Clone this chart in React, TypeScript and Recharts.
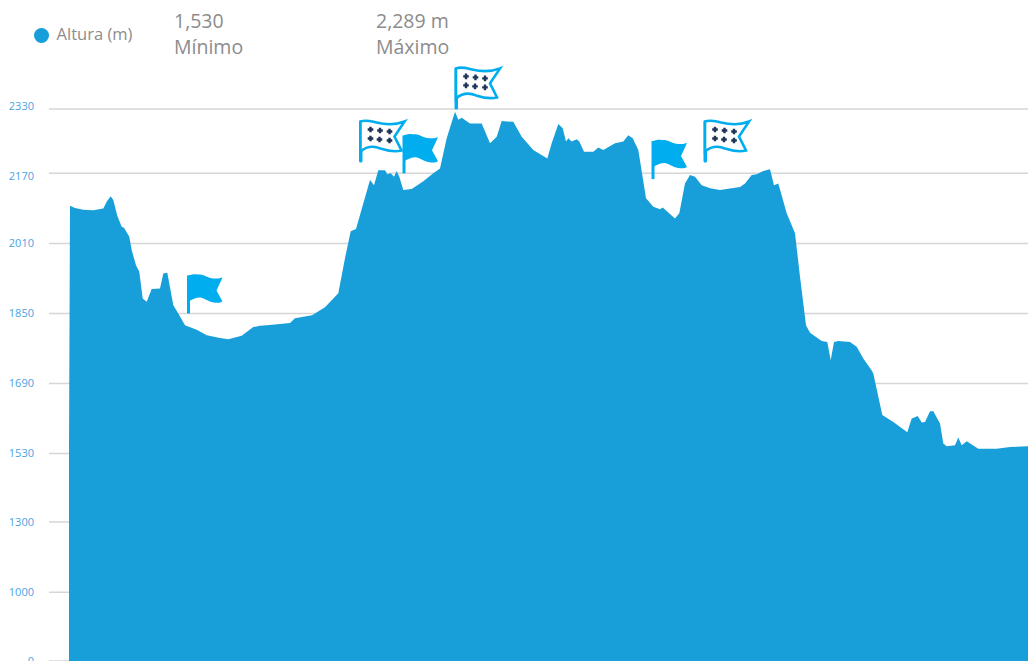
import { Area, AreaChart, CartesianGrid, Legend, ReferenceDot, XAxis, YAxis } from "recharts";

const distances = [
  0, 0.1, 0.6, 1.43, 2.43, 3.43, 3.77, 4.17, 4.43, 4.83, 5.27, 5.5, 6.03, 6.27, 6.7, 7.03, 7.37, 7.77, 8.27, 9.1, 9.43,
  9.83, 10.43, 10.93, 11.6, 12.77, 13.77, 15.1, 15.93, 17.27, 18.43, 19.1, 19.8, 21.1, 22.1, 22.6, 24.3, 25.6, 26.93,
  27.6, 28.17, 28.7, 29.43, 30.1, 30.5, 30.93, 31.6, 31.83, 32.17, 32.5, 32.77, 33.03, 33.43, 34.27, 35.43, 36.43, 37.1,
  37.77, 38.6, 38.93, 39.27, 40.1, 41.27, 42.1, 42.77, 43.27, 44.43, 45.27, 46.43, 47.83, 48.27, 48.93, 49.37, 49.7,
  49.93, 50.27, 50.77, 51.03, 51.5, 52.43, 52.93, 53.43, 54.6, 55.43, 55.93, 56.37, 56.93, 57.7, 58.43, 59.1, 59.37,
  60.6, 61.03, 61.6, 62.1, 62.6, 63.27, 64.1, 65.1, 67.1, 67.6, 68.27, 68.77, 69.43, 70.1, 70.5, 70.93, 71.77, 72.6,
  73.1, 73.7, 74.1, 75.27, 75.83, 76.17, 76.5, 76.93, 78.1, 78.77, 79.43, 80.27, 80.43, 81.33, 82.43, 83.83, 84.27,
  84.6, 84.87, 85.27, 85.6, 86.1, 86.43, 87.1, 87.43, 87.77, 88.6, 88.93, 89.27, 89.77, 90.93, 92.77, 94.1, 95.9,
];
const altitudes = [
  1544, 2096, 2091, 2087, 2086, 2090, 2105, 2118, 2109, 2073, 2048, 2046, 2025, 1995, 1960, 1945, 1884, 1877, 1906, 1907,
  1941, 1943, 1869, 1850, 1823, 1813, 1800, 1794, 1791, 1799, 1819, 1822, 1823, 1826, 1828, 1839, 1846, 1864, 1896,
  1976, 2038, 2043, 2101, 2155, 2143, 2178, 2178, 2168, 2170, 2162, 2176, 2162, 2132, 2134, 2152, 2170, 2182,
  2257, 2323, 2303, 2308, 2294, 2294, 2245, 2261, 2300, 2298, 2261, 2228, 2207, 2245, 2293, 2282, 2249,
  2257, 2249, 2255, 2249, 2224, 2224, 2234, 2228, 2245, 2249, 2265, 2257, 2228, 2113, 2094, 2088, 2092,
  2067, 2079, 2147, 2166, 2162, 2143, 2136, 2132, 2139, 2147, 2166, 2168, 2176, 2180, 2143, 2147, 2079, 2033,
  1934, 1823, 1806, 1787, 1785, 1743, 1785, 1787, 1785, 1774, 1747, 1720, 1713, 1618, 1602, 1579, 1610,
  1613, 1616, 1601, 1602, 1627, 1627, 1599, 1553, 1547, 1549, 1567, 1549, 1558, 1541, 1541, 1545, 1547,
];
const altitudeTicks = [0, 1000, 1300, 1530, 1690, 1850, 2010, 2170, 2330];
// the source axis is not linear: share of the plot height at each tick, from the bottom
const tickShares = [0, 0.1247, 0.252, 0.3757, 0.5026, 0.6296, 0.7565, 0.8834, 1];
const plainFlags = [
  { dist: 11.95, alt: 1850 },
  { dist: 33.5, alt: 2170 },
  { dist: 58.4, alt: 2157 },
];
const dottedFlags = [
  { dist: 29.15, alt: 2197 },
  { dist: 38.7, alt: 2329 },
  { dist: 63.6, alt: 2197 },
];

const data = distances.map((dist, i) => ({ dist, alt: altitudes[i] }));

const BLUE = "#189ed9";
const FLAG_BLUE = "#00aeef";

function kneeScale(domain = [0, 2330], range = [0, 1]) {
  const scale = (v: number) => {
    let i = 0;
    while (i < altitudeTicks.length - 2 && v > altitudeTicks[i + 1]) i++;
    const t = (v - altitudeTicks[i]) / (altitudeTicks[i + 1] - altitudeTicks[i]);
    const share = tickShares[i] + t * (tickShares[i + 1] - tickShares[i]);
    return range[0] + share * (range[1] - range[0]);
  };
  scale.domain = (d?: number[]) => (d ? kneeScale(d, range) : domain);
  scale.range = (r?: number[]) => (r ? kneeScale(domain, r) : range);
  scale.copy = () => kneeScale(domain, range);
  scale.ticks = () => altitudeTicks;
  return scale;
}

function PlainFlag({ cx, cy }: any) {
  return (
    <g transform={`translate(${cx},${cy})`}>
      <rect x={-1.5} y={-38} width={3} height={38} fill={FLAG_BLUE} />
      <path
        d="M0,-38 C5,-40 9,-39 12,-39 C17,-38 21,-35 25,-35 C29,-35 31,-35 34,-36 L28,-23 L34,-12 C31,-10 28,-11 25,-11 C20,-12 16,-15 12,-16 C7,-16 4,-14 0,-12 Z"
        fill={FLAG_BLUE}
      />
    </g>
  );
}

function DottedFlag({ cx, cy }: any) {
  const dots = [
    [10, -33],
    [19.5, -32],
    [29, -31],
    [10, -24],
    [19, -23],
    [29, -22],
  ];
  return (
    <g transform={`translate(${cx},${cy})`}>
      <rect x={-1.5} y={-42} width={3.5} height={42} rx={1.5} fill={FLAG_BLUE} />
      <path
        d="M0,-41 C6,-43 11,-41 16,-40 C24,-38 34,-37 44,-41 L34,-26 L41,-12 C33,-10 26,-12 20,-14 C13,-17 6,-16 0,-11 Z"
        fill="#fff"
        stroke={FLAG_BLUE}
        strokeWidth={2.6}
      />
      {dots.map(([x, y], i) => (
        <path
          key={i}
          d={`M${x - 2.8},${y} H${x + 2.8} M${x},${y - 2.8} V${y + 2.8}`}
          stroke="#1d3557"
          strokeWidth={2.4}
        />
      ))}
    </g>
  );
}

function AltitudeTick({ x, y, payload }: any) {
  // the two top labels sit slightly off their lines in the source
  const nudge = payload.value === 2330 ? -3 : payload.value === 2170 ? 2.5 : 0;
  return (
    <text x={x} y={y + nudge} dy="0.35em" textAnchor="end" fontSize={11} fill="#4aa3df" fontFamily="Open Sans">
      {payload.value}
    </text>
  );
}

function Caption({ left, top, text }: { left: number; top: number; text: string }) {
  return <div style={{ position: "absolute", left, top, fontSize: 19.5, lineHeight: "26px", color: "#8c8c8c" }}>{text}</div>;
}

export default function App() {
  return (
    <div
      style={{
        position: "absolute",
        left: 0,
        top: 0,
        width: 1028,
        height: 661,
        overflow: "hidden",
        background: "#fff",
        fontFamily: "Open Sans",
      }}
    >
      <AreaChart width={1028} height={661} data={data} margin={{ top: 109, right: 0, bottom: 0, left: 0 }}>
        <CartesianGrid vertical={false} stroke="#d6d6d6" strokeWidth={1.5} />
        <XAxis dataKey="dist" type="number" domain={[-2, 95.9]} hide />
        <YAxis
          type="number"
          domain={[0, 2330]}
          scale={kneeScale() as any}
          ticks={altitudeTicks}
          interval={0}
          width={49}
          axisLine={false}
          tickLine={false}
          tickSize={15}
          tickMargin={0}
          tick={<AltitudeTick />}
        />
        <Legend
          layout="horizontal"
          align="center"
          verticalAlign="middle"
          iconType="circle"
          iconSize={15}
          wrapperStyle={{ left: 23, top: 22, width: 130, fontSize: 16.5, textAlign: "left" }}
          formatter={(value) => <span style={{ color: "#8c8c8c", marginLeft: 4 }}>{value}</span>}
        />
        <Area
          type="linear"
          dataKey="alt"
          name="Altura (m)"
          stroke="none"
          fill={BLUE}
          fillOpacity={1}
          baseValue={0}
          legendType="circle"
          isAnimationActive={false}
        />
        {plainFlags.map((f) => (
          <ReferenceDot key={f.dist} x={f.dist} y={f.alt} ifOverflow="visible" shape={<PlainFlag />} />
        ))}
        {dottedFlags.map((f) => (
          <ReferenceDot key={f.dist} x={f.dist} y={f.alt} ifOverflow="visible" shape={<DottedFlag />} />
        ))}
      </AreaChart>
      <Caption left={174} top={8} text="1,530" />
      <Caption left={174} top={34} text="Mínimo" />
      <Caption left={376} top={8} text="2,289 m" />
      <Caption left={376} top={34} text="Máximo" />
    </div>
  );
}
